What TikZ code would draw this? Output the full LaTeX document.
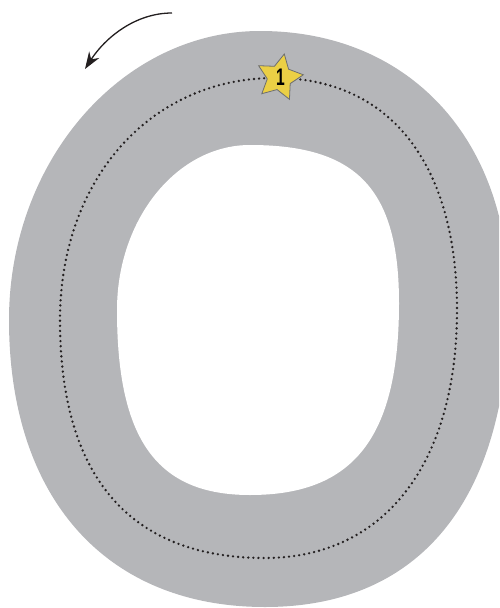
\documentclass[tikz,border=0pt]{standalone}
\usepackage{fontspec}
\setsansfont{Liberation Sans}
\usetikzlibrary{shapes.geometric,arrows.meta}
\definecolor{track}{HTML}{B5B6B9}
\definecolor{staryel}{HTML}{EBCF45}
\definecolor{staredge}{HTML}{6D6E70}
\definecolor{dotc}{HTML}{231F20}
\tikzset{
  trackfill/.style={fill=track},
  holefill/.style={fill=white},
  dotline/.style={draw=dotc, line width=2.6pt, line cap=round, dash pattern=on 0pt off 5.1pt},
  startstar/.style={star, star points=5, star point ratio=1.95, minimum size=48pt, inner sep=0pt,
    shape border rotate=-11.5, fill=staryel, draw=staredge, line width=0.8pt},
  numlabel/.style={inner sep=0pt, xscale=0.65},
  dirarrow/.style={draw=dotc, line width=1.3pt, -{Stealth[length=17pt,width=12pt]}}
}
\begin{document}
\begin{tikzpicture}[x=1pt,y=-1pt]
\useasboundingbox (0,0) rectangle (499,608);
\clip (0,0) rectangle (499,608);
% outer shape of the letter O
\path[trackfill] (260,31)
  .. controls (409,31) and (509,139) .. (509,300)
  .. controls (509,500) and (420,607) .. (265,607)
  .. controls (106,607) and (9,498) .. (9,320)
  .. controls (9,161) and (122,31) .. (260,31) -- cycle;
% inner hole
\path[holefill] (250,145)
  .. controls (357,145) and (399,189) .. (399,303)
  .. controls (399,437) and (354,495) .. (250,495)
  .. controls (157,495) and (117,440) .. (117,310)
  .. controls (117,219) and (177,145) .. (250,145) -- cycle;
% dotted tracing line
\path[dotline] (275,78)
  .. controls (390,78) and (457,164) .. (457,310)
  .. controls (457,464) and (384,558) .. (265,558)
  .. controls (130,558) and (60,477) .. (60,320)
  .. controls (60,180) and (150,78) .. (275,78) -- cycle;
% start star
\node[startstar] (star) at (279.5,77.5) {};
\node[numlabel] (one) at (280.5,77.5) {\fontsize{24}{24}\selectfont\sffamily\bfseries 1};
% direction arrow
\coordinate (arrS) at (172,13);
\coordinate (arrE) at (85,69);
\draw[dirarrow] (arrS) .. controls (135,13) and (105,38) .. (arrE);
\end{tikzpicture}
\end{document}
